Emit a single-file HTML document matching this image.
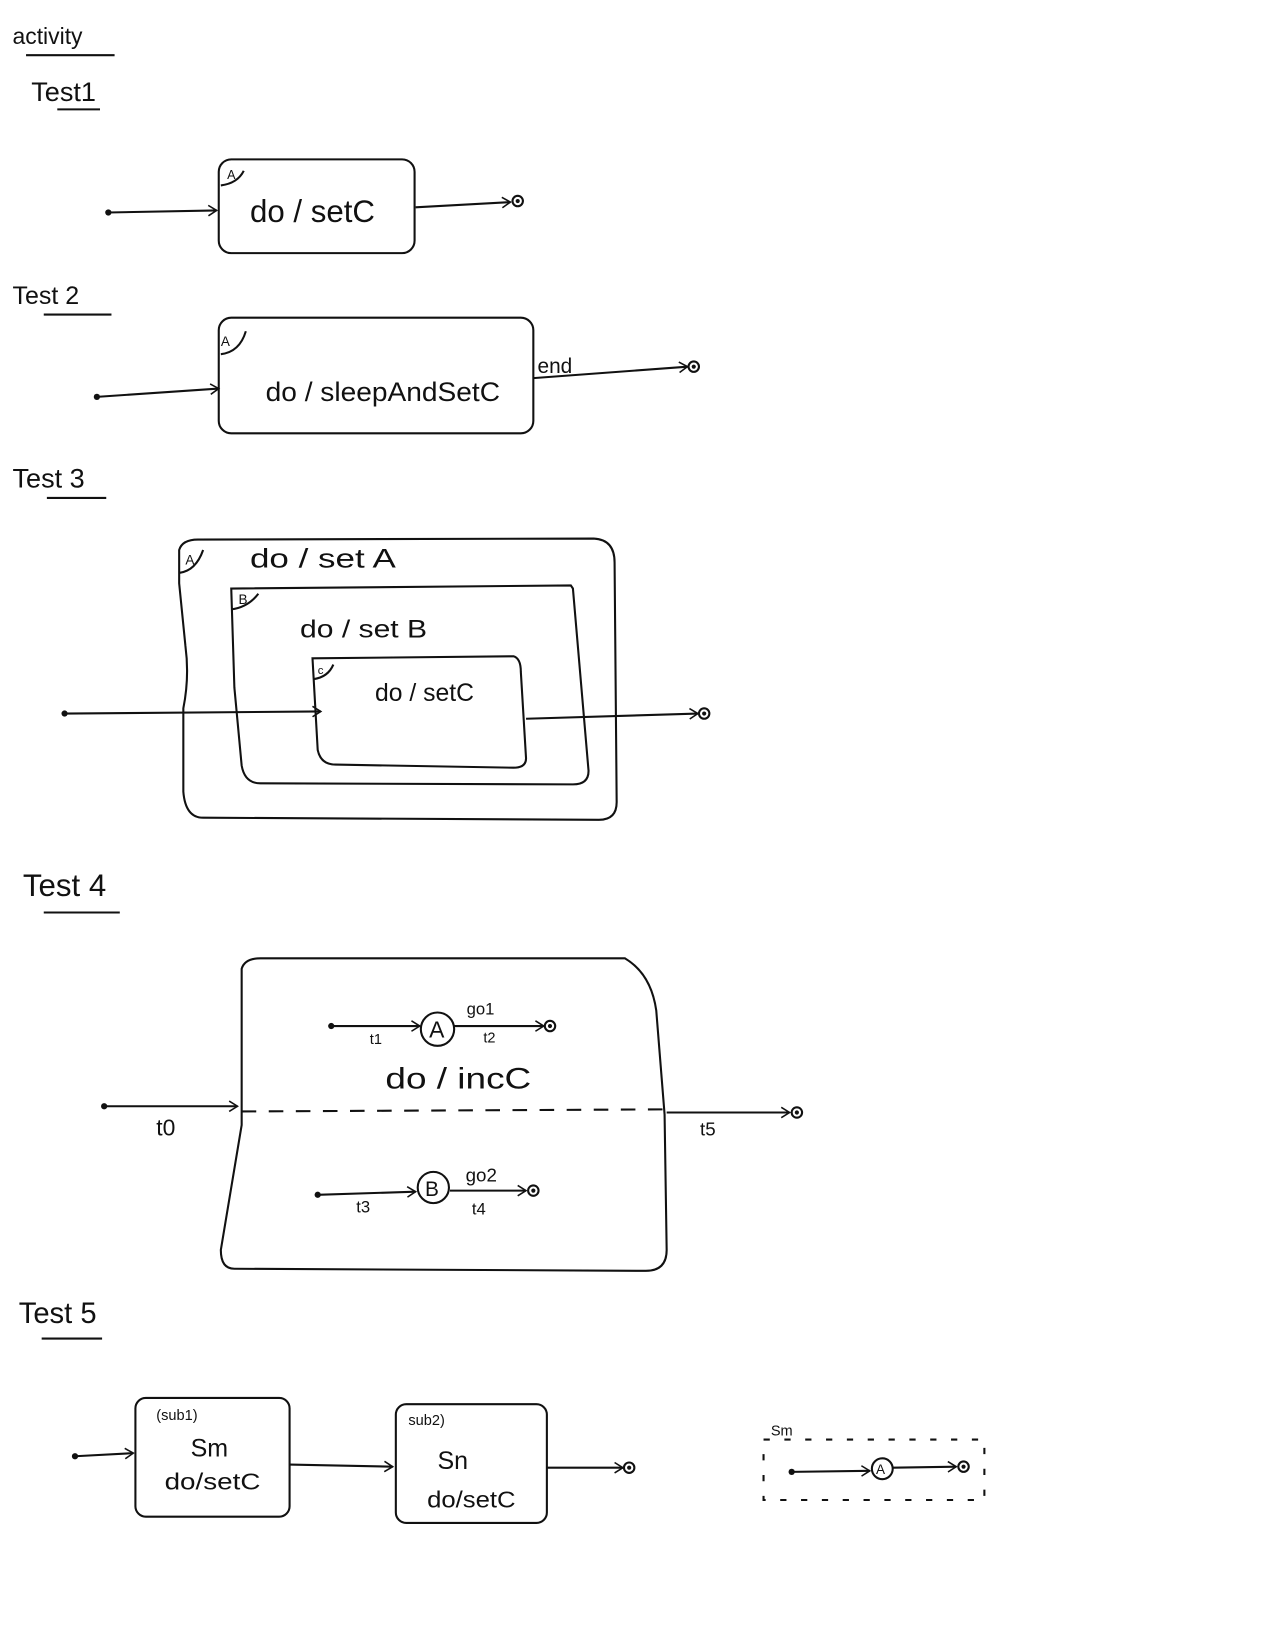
<!DOCTYPE html>
<html><head><meta charset="utf-8"><style>
html,body{margin:0;padding:0;background:#fff;width:1275px;height:1650px;overflow:hidden}
svg{display:block}
text{font-family:"Liberation Sans",sans-serif;fill:#111}
</style></head><body>
<svg width="1275" height="1650" viewBox="0 0 1224 1584" xmlns="http://www.w3.org/2000/svg">
<defs>
<marker id="ar" markerWidth="12" markerHeight="12" refX="10" refY="6" orient="auto" markerUnits="userSpaceOnUse">
<path d="M2,1 L10,6 L2,11" fill="none" stroke="#111" stroke-width="1.5"/></marker>
</defs>
<g stroke="#111" stroke-width="2" fill="none">
<!-- headings underlines -->
<line x1="25" y1="53" x2="110" y2="53"/>
<line x1="55" y1="105" x2="96" y2="105"/>
<line x1="42" y1="302" x2="107" y2="302"/>
<line x1="45" y1="478" x2="102" y2="478"/>
<line x1="42" y1="876" x2="115" y2="876"/>
<line x1="40" y1="1285" x2="98" y2="1285"/>
<!-- Test1 -->
<rect x="210" y="153" width="188" height="90" rx="12"/>
<path d="M212,178 Q228,176 234,164"/>
<line x1="104" y1="204" x2="208" y2="202" marker-end="url(#ar)"/>
<line x1="399" y1="199" x2="490" y2="194" marker-end="url(#ar)"/>
<circle cx="497" cy="193" r="5"/>
<!-- Test2 -->
<rect x="210" y="305" width="302" height="111" rx="12"/>
<path d="M212,340 Q230,338 236,318"/>
<line x1="93" y1="381" x2="210" y2="373" marker-end="url(#ar)"/>
<line x1="512" y1="363" x2="660" y2="352" marker-end="url(#ar)"/>
<circle cx="666" cy="352" r="5"/>
<!-- Test3 -->
<path d="M172,528 Q175,518 190,518 L570,517 Q590,518 590,540 L592,770 Q592,787 575,787 L195,785 Q178,785 176,760 L176,680 Q182,650 178,620 L172,560 Z"/>
<path d="M172,550 Q188,548 195,528"/>
<path d="M222,565 L548,562 L550,565 L565,740 Q565,753 550,753 L250,752 Q235,752 232,735 L225,660 L222,565 Z"/>
<path d="M222,585 Q238,583 248,570"/>
<path d="M300,632 L493,630 Q500,632 500,645 L505,728 Q505,737 493,737 L322,734 Q308,734 305,720 L300,632 Z"/>
<path d="M301,652 Q315,650 320,638"/>
<line x1="62" y1="685" x2="308" y2="683" marker-end="url(#ar)"/>
<line x1="505" y1="690" x2="670" y2="685" marker-end="url(#ar)"/>
<circle cx="676" cy="685" r="5"/>
<!-- Test4 -->
<path d="M232,930 Q235,920 250,920 L600,920 Q625,935 630,970 L638,1070 L640,1200 Q640,1220 620,1220 L225,1218 Q212,1218 212,1200 L232,1080 Z"/>
<line x1="232" y1="1067" x2="638" y2="1065" stroke-dasharray="14,12"/>
<line x1="100" y1="1062" x2="228" y2="1062" marker-end="url(#ar)"/>
<line x1="640" y1="1068" x2="758" y2="1068" marker-end="url(#ar)"/>
<circle cx="765" cy="1068" r="5"/>
<line x1="318" y1="985" x2="403" y2="985" marker-end="url(#ar)"/>
<circle cx="420" cy="988" r="16"/>
<line x1="436" y1="985" x2="522" y2="985" marker-end="url(#ar)"/>
<circle cx="528" cy="985" r="5"/>
<line x1="305" y1="1147" x2="399" y2="1144" marker-end="url(#ar)"/>
<circle cx="416" cy="1140" r="15"/>
<line x1="432" y1="1143" x2="505" y2="1143" marker-end="url(#ar)"/>
<circle cx="512" cy="1143" r="5"/>
<!-- Test5 -->
<rect x="130" y="1342" width="148" height="114" rx="10"/>
<rect x="380" y="1348" width="145" height="114" rx="10"/>
<line x1="72" y1="1398" x2="128" y2="1395" marker-end="url(#ar)"/>
<line x1="278" y1="1406" x2="377" y2="1408" marker-end="url(#ar)"/>
<line x1="525" y1="1409" x2="598" y2="1409" marker-end="url(#ar)"/>
<circle cx="604" cy="1409" r="5"/>
<rect x="733" y="1382" width="212" height="58" stroke-dasharray="6,14"/>
<line x1="760" y1="1413" x2="835" y2="1412" marker-end="url(#ar)"/>
<circle cx="847" cy="1410" r="10"/>
<line x1="857" y1="1409" x2="918" y2="1408" marker-end="url(#ar)"/>
<circle cx="925" cy="1408" r="5"/>
</g>
<g fill="#111">
<circle cx="104" cy="204" r="3"/><circle cx="497" cy="193" r="2"/>
<circle cx="93" cy="381" r="3"/><circle cx="666" cy="352" r="2"/>
<circle cx="62" cy="685" r="3"/><circle cx="676" cy="685" r="2"/>
<circle cx="100" cy="1062" r="3"/><circle cx="765" cy="1068" r="2"/>
<circle cx="318" cy="985" r="3"/><circle cx="528" cy="985" r="2"/>
<circle cx="305" cy="1147" r="3"/><circle cx="512" cy="1143" r="2"/>
<circle cx="72" cy="1398" r="3"/><circle cx="604" cy="1409" r="2"/>
<circle cx="760" cy="1413" r="3"/><circle cx="925" cy="1408" r="2"/>
</g>
<text x="12" y="42" font-size="22">activity</text>
<text x="30" y="97" font-size="26">Test1</text>
<text x="218" y="172" font-size="12">A</text>
<text x="240" y="213" font-size="30">do / setC</text>
<text x="12" y="292" font-size="24">Test 2</text>
<text x="212" y="332" font-size="13">A</text>
<text x="255" y="385" font-size="26" textLength="225" lengthAdjust="spacingAndGlyphs">do / sleepAndSetC</text>
<text x="516" y="358" font-size="20">end</text>
<text x="12" y="468" font-size="26">Test 3</text>
<text x="178" y="542" font-size="13">A</text>
<text x="240" y="545" font-size="26" textLength="140" lengthAdjust="spacingAndGlyphs">do / set A</text>
<text x="229" y="580" font-size="13">B</text>
<text x="288" y="612" font-size="24" textLength="122" lengthAdjust="spacingAndGlyphs">do / set B</text>
<text x="305" y="647" font-size="11">c</text>
<text x="360" y="673" font-size="24" textLength="95" lengthAdjust="spacingAndGlyphs">do / setC</text>
<text x="22" y="860" font-size="30">Test 4</text>
<text x="150" y="1090" font-size="22">t0</text>
<text x="672" y="1090" font-size="18">t5</text>
<text x="412" y="996" font-size="22">A</text>
<text x="355" y="1002" font-size="14">t1</text>
<text x="448" y="974" font-size="16">go1</text>
<text x="464" y="1001" font-size="14">t2</text>
<text x="370" y="1045" font-size="28" textLength="140" lengthAdjust="spacingAndGlyphs">do / incC</text>
<text x="342" y="1164" font-size="16">t3</text>
<text x="408" y="1148" font-size="20">B</text>
<text x="447" y="1134" font-size="18">go2</text>
<text x="453" y="1166" font-size="16">t4</text>
<text x="18" y="1270" font-size="28">Test 5</text>
<text x="150" y="1363" font-size="14">(sub1)</text>
<text x="183" y="1398" font-size="24">Sm</text>
<text x="158" y="1430" font-size="22" textLength="92" lengthAdjust="spacingAndGlyphs">do/setC</text>
<text x="392" y="1368" font-size="14">sub2)</text>
<text x="420" y="1410" font-size="24">Sn</text>
<text x="410" y="1447" font-size="22" textLength="85" lengthAdjust="spacingAndGlyphs">do/setC</text>
<text x="740" y="1378" font-size="14">Sm</text>
<text x="841" y="1415" font-size="13">A</text>
</svg>
</body></html>
